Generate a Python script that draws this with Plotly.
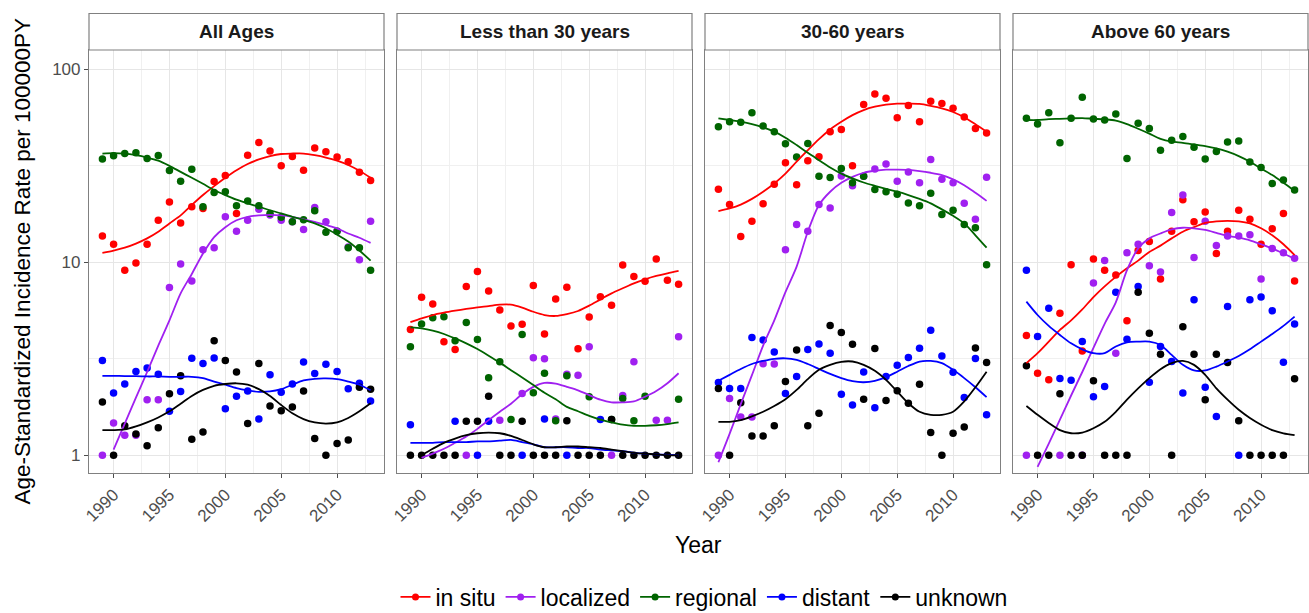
import plotly.graph_objects as go

years = list(range(1989, 2014))
panel_titles = ["All Ages", "Less than 30 years", "30-60 years", "Above 60 years"]
stages = ["in situ", "localized", "regional", "distant", "unknown"]
stage_colors = ["#FF0000", "#A020F0", "#006400", "#0000FF", "#000000"]
x_ticks = [1990, 1995, 2000, 2005, 2010]
x_minor = [1992.5, 1997.5, 2002.5, 2007.5, 2012.5]
y_ticks = [1, 10, 100]
y_tick_text = ["1", "10", "100"]
y_minor = [3.1623, 31.623]

# ---------------- All Ages: observed rates ----------------
all_in_situ = [13.7, 12.4, 9.1, 9.9, 12.4, 16.5, 20.5, 16.0, 19.4, 19.0, 26.2, 28.2, 17.9,
               35.9, 41.8, 37.7, 31.6, 35.3, 30.0, 39.1, 37.4, 35.1, 33.2, 29.3, 26.5]
all_localized = [1.0, 1.47, 1.27, 1.27, 1.94, 1.94, 7.4, 9.8, 8.0, 11.6, 11.9, 17.2, 14.5,
                 16.5, 18.8, 17.6, 16.5, 16.2, 14.8, 19.2, 16.2, 14.5, 12.0, 10.3, 16.3]
all_regional = [34.3, 35.6, 36.6, 36.9, 34.5, 35.8, 29.9, 26.3, 30.3, 19.4, 23.0, 23.2, 19.6,
                20.8, 19.6, 17.9, 17.1, 16.2, 16.6, 18.5, 14.3, 14.5, 11.9, 11.9, 9.1]
all_distant = [3.10, 2.10, 2.34, 2.72, 2.83, 2.63, 1.69, 2.14, 3.18, 2.99, 3.19, 1.74, 2.02,
               2.15, 1.54, 2.61, 2.12, 2.34, 3.04, 2.65, 2.96, 2.72, 2.21, 2.36, 1.91]
all_unknown = [1.89, 1.0, 1.42, 1.29, 1.12, 1.39, 2.08, 2.58, 1.21, 1.32, 3.92, 3.10, 2.70,
               1.46, 2.99, 1.80, 1.70, 1.78, 2.15, 1.22, 1.0, 1.15, 1.20, 2.25, 2.20]
# All Ages: smoothed fits
all_in_situ_fit = [11.2, 11.5, 11.9, 12.5, 13.3, 14.4, 15.9, 17.5, 19.8, 22.3, 24.8, 27.4, 30.0,
                   32.3, 34.1, 35.5, 36.4, 36.6, 36.6, 35.9, 34.9, 33.6, 31.9, 29.8, 27.4]
all_localized_fit = [None, 1.07, 1.46, 1.99, 2.7, 3.7, 5.0, 6.9, 8.7, 11.1, 13.5, 15.2, 16.5,
                     17.2, 17.5, 17.6, 17.5, 17.2, 16.7, 16.2, 15.6, 15.0, 14.1, 13.4, 12.6]
all_regional_fit = [36.6, 36.8, 36.6, 35.9, 34.9, 33.6, 31.6, 29.4, 27.4, 25.5, 23.7, 22.3, 21.1,
                    20.2, 19.4, 18.6, 17.9, 17.2, 16.6, 15.9, 15.0, 13.9, 12.8, 11.5, 10.2]
all_distant_fit = [2.58, 2.58, 2.57, 2.57, 2.56, 2.56, 2.55, 2.55, 2.55, 2.51, 2.41, 2.32, 2.23,
                   2.17, 2.13, 2.14, 2.20, 2.32, 2.44, 2.49, 2.50, 2.48, 2.41, 2.32, 2.17]
all_unknown_fit = [1.35, 1.35, 1.36, 1.41, 1.48, 1.57, 1.69, 1.85, 2.03, 2.18, 2.29, 2.34, 2.36,
                   2.32, 2.20, 2.03, 1.82, 1.65, 1.54, 1.48, 1.46, 1.48, 1.56, 1.69, 1.86]

# ---------------- Less than 30 years ----------------
lt30_in_situ = [4.49, 6.58, 6.08, 3.87, 3.53, 7.48, 8.95, 7.10, 5.66, 4.67, 4.77, 7.57, 4.25,
                6.45, 7.42, 3.56, 5.20, 6.63, 5.98, 9.69, 8.43, 7.97, 10.4, 8.07, 7.69]
lt30_localized = [None, None, None, None, None, 1.0, None, None, 1.52, None, 2.09, 3.20, 3.16,
                  1.54, 2.63, 2.60, 3.65, None, 1.0, 2.04, 3.05, None, 1.52, 1.52, 4.11]
lt30_regional = [3.65, 4.79, 5.16, 5.22, 3.92, 4.88, 3.98, 2.52, 3.05, 1.53, 4.23, 2.11, 2.66,
                 1.51, 2.58, None, 2.01, None, 1.53, 1.97, 1.51, 2.02, None, None, 1.95]
lt30_distant = [1.44, None, None, None, 1.50, None, 1.0, 1.50, None, None, 1.0, None, 1.54,
                None, 1.0, None, None, 1.53, None, None, None, None, None, None, None]
lt30_unknown = [1.0, 1.0, 1.0, 1.0, 1.0, 1.50, 1.50, 2.02, 1.0, 1.0, 1.50, 1.0, 1.0,
                1.0, 1.51, 1.0, 1.0, 1.0, 1.53, 1.0, 1.0, 1.0, 1.0, 1.0, 1.0]
lt30_in_situ_fit = [4.90, 5.12, 5.33, 5.48, 5.61, 5.73, 5.84, 5.93, 6.03, 6.03, 5.82, 5.54, 5.33,
                    5.27, 5.39, 5.59, 5.96, 6.42, 6.90, 7.33, 7.78, 8.16, 8.49, 8.77, 9.02]
lt30_localized_fit = [None, 0.97, 1.02, 1.08, 1.16, 1.25, 1.37, 1.52, 1.68, 1.85, 2.07, 2.26, 2.37,
                      2.35, 2.26, 2.17, 2.05, 1.94, 1.88, 1.88, 1.90, 2.01, 2.15, 2.36, 2.66]
lt30_regional_fit = [4.60, 4.54, 4.42, 4.25, 4.03, 3.80, 3.55, 3.28, 3.02, 2.76, 2.53, 2.31, 2.11,
                     1.95, 1.78, 1.69, 1.60, 1.53, 1.48, 1.44, 1.42, 1.42, 1.43, 1.45, 1.48]
lt30_distant_fit = [1.16, 1.16, 1.16, 1.17, 1.17, 1.17, 1.18, 1.18, 1.19, 1.20, 1.17, 1.14, 1.10,
                    1.10, 1.10, 1.09, 1.09, 1.07, 1.06, 1.05, 1.03, 1.02, 1.01, 1.005, 1.0]
lt30_unknown_fit = [None, 1.0, 1.08, 1.16, 1.22, 1.27, 1.30, 1.31, 1.30, 1.26, 1.20, 1.14, 1.10,
                    1.10, 1.11, 1.11, 1.10, 1.09, 1.07, 1.05, 1.03, 1.02, 1.01, 1.0, 1.0]

# ---------------- 30-60 years ----------------
mid_in_situ = [23.9, 19.9, 13.6, 16.3, 20.1, 25.4, 32.8, 25.2, 33.6, 35.2, 47.5, 48.8, 31.6,
               65.8, 74.5, 70.7, 56.1, 65.0, 53.5, 68.2, 66.4, 62.8, 56.6, 49.4, 46.8]
mid_localized = [1.0, 1.97, 1.58, 1.58, 2.98, 2.97, 11.6, 15.7, 14.5, 19.9, 19.1, 28.0, 24.9,
                 27.9, 30.4, 32.3, 26.3, 29.4, 25.8, 34.1, 26.9, 25.8, 20.2, 16.7, 27.6]
mid_regional = [50.4, 53.5, 53.1, 59.6, 50.8, 47.5, 41.1, 35.1, 41.3, 27.9, 27.5, 30.6, 25.8,
                27.9, 23.8, 23.2, 22.5, 20.3, 19.6, 22.8, 17.7, 18.6, 15.7, 15.1, 9.7]
mid_distant = [2.38, 2.22, 2.22, 4.07, 3.96, 3.43, 2.09, 2.56, 3.53, 3.77, 3.38, 2.07, 1.82,
               2.70, 1.76, 2.56, 2.93, 3.21, 3.58, 4.44, 3.27, 2.69, 1.99, 3.17, 1.62]
mid_unknown = [2.22, 1.0, 1.87, 1.26, 1.26, 1.42, 2.41, 3.51, 1.42, 1.65, 4.70, 4.32, 3.76,
               1.95, 3.57, 1.92, 2.16, 1.86, 2.33, 1.31, 1.0, 1.30, 1.40, 3.60, 3.02]
mid_in_situ_fit = [18.4, 19.0, 19.9, 21.3, 23.2, 25.6, 28.8, 33.2, 38.1, 43.5, 48.8, 53.5, 57.9,
                   61.5, 64.0, 65.6, 66.4, 66.4, 66.2, 64.7, 62.8, 60.1, 56.4, 51.9, 47.5]
mid_localized_fit = [0.92, 1.29, 1.84, 2.6, 3.7, 5.0, 7.0, 9.5, 14.4, 19.8, 23.2, 25.8, 27.7,
                     29.1, 29.8, 30.2, 30.2, 30.1, 29.7, 29.1, 28.3, 26.9, 25.1, 22.9, 20.8]
mid_regional_fit = [55.7, 54.6, 53.5, 52.0, 50.0, 47.5, 44.2, 40.5, 36.9, 33.8, 31.0, 28.8, 27.2,
                    25.9, 24.9, 24.0, 23.2, 22.3, 21.3, 20.2, 18.8, 17.4, 15.9, 13.8, 11.9]
mid_distant_fit = [2.43, 2.61, 2.80, 2.97, 3.08, 3.16, 3.18, 3.12, 2.97, 2.80, 2.64, 2.51, 2.42,
                   2.39, 2.43, 2.54, 2.71, 2.90, 3.06, 3.08, 3.00, 2.77, 2.51, 2.25, 2.00]
mid_unknown_fit = [1.49, 1.49, 1.52, 1.59, 1.68, 1.80, 1.95, 2.18, 2.48, 2.77, 2.94, 3.05, 3.06,
                   2.94, 2.74, 2.46, 2.14, 1.86, 1.68, 1.62, 1.62, 1.68, 1.90, 2.25, 2.71]

# ---------------- Above 60 years ----------------
old_in_situ = [4.18, 2.66, 2.46, 5.44, 9.7, 3.47, 10.4, 9.1, 8.6, 4.97, 11.5, 12.8, 8.2,
               14.5, 21.1, 16.2, 18.2, 11.1, 14.5, 18.6, 16.7, 12.4, 14.9, 17.9, 8.0]
old_localized = [1.0, None, None, 1.0, None, 1.0, 7.8, 10.2, 3.38, 11.2, 12.4, 9.6, 8.9,
                 18.1, 22.3, 10.6, 16.3, 12.2, 13.7, 13.7, 13.9, 8.2, 11.8, 11.2, 10.5]
old_regional = [55.7, 52.0, 59.6, 41.6, 55.7, 71.6, 55.2, 54.6, 58.6, 34.5, 52.5, 49.4, 38.1,
                42.9, 44.8, 39.4, 34.3, 37.5, 42.0, 42.5, 33.1, 31.0, 25.6, 26.7, 23.7]
old_distant = [9.1, 4.12, 5.78, 2.50, 2.45, 3.88, 2.01, 2.27, 7.0, 3.99, 7.5, 2.39, 3.66,
               3.06, 2.10, 6.4, 2.25, 1.59, 5.9, 1.0, 6.4, 6.6, 5.6, 3.03, 4.79]
old_unknown = [2.91, 1.0, 1.0, 2.08, 1.0, 1.0, 2.43, 1.0, 1.0, 1.0, 7.0, 4.29, 3.34,
               1.0, 4.64, 3.34, 1.94, 3.34, 3.02, 1.51, 1.0, 1.0, 1.0, 1.0, 2.49]
old_in_situ_fit = [3.0, 3.38, 3.88, 4.46, 5.0, 5.7, 6.6, 7.5, 8.4, 9.3, 10.2, 11.3, 12.2,
                   13.3, 14.4, 15.2, 16.0, 16.3, 16.4, 16.3, 15.9, 15.0, 13.8, 12.4, 10.9]
old_localized_fit = [None, 0.87, 1.15, 1.53, 2.04, 2.7, 3.6, 4.8, 6.2, 9.1, 11.8, 13.3, 14.1,
                     14.8, 15.1, 15.0, 14.7, 14.2, 13.7, 13.4, 13.0, 12.4, 11.8, 11.1, 10.4]
old_regional_fit = [54.6, 54.6, 55.2, 55.4, 55.7, 55.9, 55.4, 55.0, 54.2, 52.0, 49.2, 46.4, 43.6,
                    42.2, 41.6, 40.8, 40.0, 38.9, 37.4, 35.5, 33.2, 30.6, 28.3, 25.8, 23.4]
old_distant_fit = [6.25, 5.33, 4.68, 4.2, 3.80, 3.54, 3.38, 3.38, 3.66, 3.85, 3.88, 3.88, 3.73,
                   3.31, 2.94, 2.75, 2.75, 2.88, 3.06, 3.27, 3.54, 3.88, 4.25, 4.68, 5.23]
old_unknown_fit = [1.80, 1.62, 1.47, 1.35, 1.30, 1.31, 1.38, 1.49, 1.68, 1.94, 2.22, 2.51, 2.79,
                   3.0, 3.08, 2.94, 2.61, 2.22, 1.94, 1.72, 1.56, 1.44, 1.35, 1.30, 1.27]

observed = [
    [all_in_situ, all_localized, all_regional, all_distant, all_unknown],
    [lt30_in_situ, lt30_localized, lt30_regional, lt30_distant, lt30_unknown],
    [mid_in_situ, mid_localized, mid_regional, mid_distant, mid_unknown],
    [old_in_situ, old_localized, old_regional, old_distant, old_unknown],
]
fitted = [
    [all_in_situ_fit, all_localized_fit, all_regional_fit, all_distant_fit, all_unknown_fit],
    [lt30_in_situ_fit, lt30_localized_fit, lt30_regional_fit, lt30_distant_fit, lt30_unknown_fit],
    [mid_in_situ_fit, mid_localized_fit, mid_regional_fit, mid_distant_fit, mid_unknown_fit],
    [old_in_situ_fit, old_localized_fit, old_regional_fit, old_distant_fit, old_unknown_fit],
]

W, H = 1309, 613
def fx(px):
    return px / W
def fy(py):
    return 1 - py / H

panel_px = [(89, 384), (397, 692), (705, 1000), (1013, 1308)]
plot_top, plot_bottom = 50, 473
strip_top = 13.5

FONT = "Liberation Sans, Arial, Helvetica, sans-serif"
fig = go.Figure()

for p in range(4):
    suffix = "" if p == 0 else str(p + 1)
    xa, ya = "x" + suffix, "y" + suffix
    for s in range(5):
        fig.add_trace(go.Scatter(
            x=years, y=observed[p][s], mode="markers", xaxis=xa, yaxis=ya,
            marker=dict(color=stage_colors[s], size=7.5, line=dict(width=0)),
            showlegend=False, hoverinfo="skip", cliponaxis=True))
    for s in range(5):
        fig.add_trace(go.Scatter(
            x=years, y=fitted[p][s], mode="lines", xaxis=xa, yaxis=ya,
            line=dict(color=stage_colors[s], width=1.8, shape="spline", smoothing=0.8),
            connectgaps=False, showlegend=False, hoverinfo="skip"))

for s in range(5):
    fig.add_trace(go.Scatter(
        x=[None], y=[None], mode="lines+markers", name=stages[s],
        line=dict(color=stage_colors[s], width=1.8),
        marker=dict(color=stage_colors[s], size=7), xaxis="x", yaxis="y"))

layout = dict(
    width=W, height=H, margin=dict(l=0, r=0, t=0, b=0, pad=0, autoexpand=False),
    paper_bgcolor="white", plot_bgcolor="white",
    font=dict(family=FONT, color="#1a1a1a"),
    showlegend=True, hovermode=False,
    legend=dict(orientation="h", x=fx(704), xanchor="center", y=fy(597), yanchor="middle",
                font=dict(size=23, family=FONT, color="#000000"), itemwidth=30,
                tracegroupgap=0, bgcolor="rgba(0,0,0,0)"),
)

ydom = [fy(plot_bottom), fy(plot_top)]
shapes, annotations = [], []
for p, (x0, x1) in enumerate(panel_px):
    suffix = "" if p == 0 else str(p + 1)
    layout["xaxis" + suffix] = dict(
        domain=[fx(x0), fx(x1)], anchor="y" + suffix, range=[1987.8, 2014.2],
        tickvals=x_ticks, ticktext=[str(v) for v in x_ticks], tickangle=-45,
        ticks="outside", ticklen=4, tickcolor="#4d4d4d", tickwidth=1,
        tickfont=dict(size=17, color="#4d4d4d", family=FONT), automargin=False,
        showgrid=True, gridcolor="#e6e6e6", gridwidth=1.3,
        minor=dict(tickvals=x_minor, showgrid=True, gridcolor="#f0f0f0", gridwidth=0.8, ticks=""),
        showline=True, linecolor="#808080", linewidth=1.2, mirror=True, zeroline=False,
        fixedrange=True)
    layout["yaxis" + suffix] = dict(
        domain=ydom, anchor="x" + suffix, type="log", range=[-0.092, 2.1],
        tickvals=y_ticks, ticktext=y_tick_text if p == 0 else ["", "", ""],
        showticklabels=(p == 0), automargin=False,
        ticks="outside" if p == 0 else "", ticklen=4, tickcolor="#4d4d4d", tickwidth=1,
        tickfont=dict(size=17, color="#4d4d4d", family=FONT),
        showgrid=True, gridcolor="#e6e6e6", gridwidth=1.3,
        minor=dict(tickvals=y_minor, showgrid=True, gridcolor="#f0f0f0", gridwidth=0.8, ticks=""),
        showline=True, linecolor="#808080", linewidth=1.2, mirror=True, zeroline=False,
        fixedrange=True)
    shapes.append(dict(type="rect", xref="paper", yref="paper",
                       x0=fx(x0), x1=fx(x1), y0=fy(plot_top), y1=fy(strip_top),
                       fillcolor="white", line=dict(color="#808080", width=1.2)))
    annotations.append(dict(text="<b>" + panel_titles[p] + "</b>", xref="paper", yref="paper",
                            x=fx((x0 + x1) / 2), y=fy((plot_top + strip_top) / 2),
                            xanchor="center", yanchor="middle", showarrow=False,
                            font=dict(size=19, color="#1a1a1a", family=FONT)))

annotations.append(dict(text="Year", xref="paper", yref="paper", x=fx(698.5), y=fy(545),
                        xanchor="center", yanchor="middle", showarrow=False,
                        font=dict(size=23, color="#000000", family=FONT)))
annotations.append(dict(text="Age-Standardized Incidence Rate per 100000PY", xref="paper",
                        yref="paper", x=fx(22), y=fy(261.5), textangle=-90,
                        xanchor="center", yanchor="middle", showarrow=False,
                        font=dict(size=22.5, color="#000000", family=FONT)))
layout["shapes"] = shapes
layout["annotations"] = annotations
fig.update_layout(**layout)

# remove the default page margin so the figure sits at the top-left corner of the window
fig.write_html("out.html", config={"displayModeBar": False},
               post_script="document.body.style.margin='0';document.body.style.overflow='hidden';")
